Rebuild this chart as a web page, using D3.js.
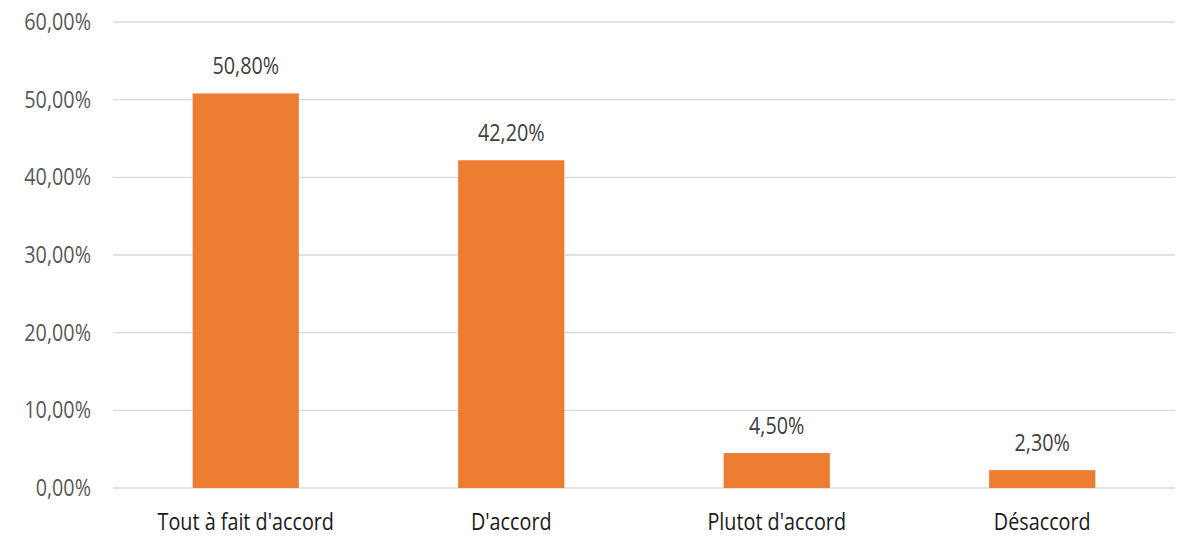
<!DOCTYPE html>
<html><head><meta charset="utf-8">
<script src="https://cdn.jsdelivr.net/npm/d3@7"></script>
<style>body{margin:0;background:#fff}svg{display:block}</style>
</head><body>
<svg id="c" width="1186" height="540"></svg>
<script>
const categories = ["Tout à fait d'accord", "D'accord", "Plutot d'accord", "Désaccord"];
const values = [50.8, 42.2, 4.5, 2.3];
const yTicks = [0, 10, 20, 30, 40, 50, 60];

const font = "'Open Sans', sans-serif";
const sx = 0.86;
const svg = d3.select("#c");
const m = {left: 113, right: 11, top: 22, bottom: 52};
const W = 1186, H = 540;
const x = d3.scaleBand().domain(categories).range([m.left, W - m.right]).paddingInner(0.6).paddingOuter(0.3);
const y = d3.scaleLinear().domain([0, 60]).range([H - m.bottom, m.top]);
const fmt = v => v.toFixed(2).replace(".", ",") + "%";

svg.append("g").selectAll("line").data(yTicks).join("line")
  .attr("x1", m.left).attr("x2", W - m.right)
  .attr("y1", d => y(d)).attr("y2", d => y(d))
  .attr("stroke", "#d9d9d9").attr("stroke-width", 1.3);

svg.append("g").selectAll("text").data(yTicks).join("text")
  .attr("transform", d => `translate(91,${y(d)}) scale(${sx},1)`).attr("dy", "0.35em")
  .attr("text-anchor", "end").attr("font-family", font).attr("font-size", 23)
  .attr("fill", "#595959").text(fmt);

svg.append("g").selectAll("rect").data(values).join("rect")
  .attr("x", (d, i) => x(categories[i])).attr("width", x.bandwidth())
  .attr("y", d => y(d)).attr("height", d => y(0) - y(d))
  .attr("fill", "#ED7D31");

svg.append("g").selectAll("text").data(values).join("text")
  .attr("transform", (d, i) => `translate(${x(categories[i]) + x.bandwidth() / 2},${y(d) - 19}) scale(${sx},1)`)
  .attr("text-anchor", "middle").attr("font-family", font).attr("font-size", 23)
  .attr("fill", "#404040").text(fmt);

svg.append("g").selectAll("text").data(categories).join("text")
  .attr("transform", d => `translate(${x(d) + x.bandwidth() / 2},522) scale(${sx},1)`).attr("dy", "0.35em")
  .attr("text-anchor", "middle").attr("font-family", font).attr("font-size", 23)
  .attr("fill", "#1a1a1a").text(d => d);
</script>
</body></html>
